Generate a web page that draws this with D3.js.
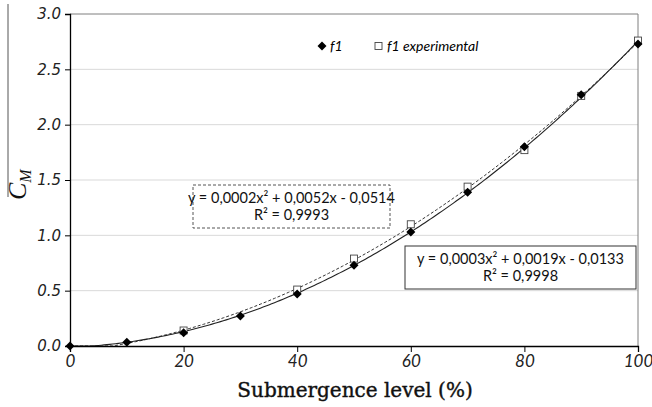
<!DOCTYPE html>
<html>
<head>
<meta charset="utf-8">
<script src="https://d3js.org/d3.v7.min.js"></script>
<style>
  body { margin: 0; background: #fff; }
  svg { display: block; }
</style>
</head>
<body>
<div id="chart"></div>
<script>
// data
const levels = [0, 10, 20, 30, 40, 50, 60, 70, 80, 90, 100];
const f1 = [0, 0.035, 0.12, 0.27, 0.47, 0.73, 1.03, 1.39, 1.80, 2.27, 2.73];
const expLevels = [20, 40, 50, 60, 70, 80, 90, 100];
const f1Exp = [0.14, 0.51, 0.79, 1.10, 1.44, 1.77, 2.26, 2.76];
const yTicks = [0, 0.5, 1.0, 1.5, 2.0, 2.5, 3.0];
const xTicks = [0, 20, 40, 60, 80, 100];
const eqSolid = ["y = 0,0003x² + 0,0019x - 0,0133", "R² = 0,9998"];
const eqDashed = ["y = 0,0002x² + 0,0052x - 0,0514", "R² = 0,9993"];

const width = 652, height = 407;
const margin = {left: 70, right: 14, top: 14, bottom: 61};

const svg = d3.select("#chart").append("svg")
    .attr("width", width)
    .attr("height", height);

const x = d3.scaleLinear().domain([0, 100]).range([margin.left, width - margin.right]);
const y = d3.scaleLinear().domain([0, 3]).range([height - margin.bottom, margin.top]);

// gridlines
svg.append("g")
    .selectAll("line")
    .data(yTicks.filter(d => d > 0 && d < 3))
    .enter().append("line")
    .attr("x1", x(0)).attr("x2", x(100))
    .attr("y1", d => y(d)).attr("y2", d => y(d))
    .attr("stroke", "#d9d9d9");

// top / right frame
svg.append("path")
    .attr("d", `M${x(0)},${y(3)}H${x(100)}V${y(0)}`)
    .attr("fill", "none")
    .attr("stroke", "#7f7f7f");

// quadratic least squares for trendlines
function fitQuad(xs, ys) {
    let s = [0, 0, 0, 0, 0], t = [0, 0, 0];
    xs.forEach((xv, i) => {
        for (let k = 0; k < 5; k++) s[k] += Math.pow(xv, k);
        for (let k = 0; k < 3; k++) t[k] += ys[i] * Math.pow(xv, k);
    });
    const A = [[s[0], s[1], s[2], t[0]], [s[1], s[2], s[3], t[1]], [s[2], s[3], s[4], t[2]]];
    for (let i = 0; i < 3; i++) {
        for (let j = i + 1; j < 3; j++) {
            const f = A[j][i] / A[i][i];
            for (let k = i; k < 4; k++) A[j][k] -= f * A[i][k];
        }
    }
    const c = [0, 0, 0];
    for (let i = 2; i >= 0; i--) {
        let v = A[i][3];
        for (let k = i + 1; k < 3; k++) v -= A[i][k] * c[k];
        c[i] = v / A[i][i];
    }
    return xv => c[0] + c[1] * xv + c[2] * xv * xv;
}

const fitSolid = fitQuad(levels, f1);
const fitDashed = fitQuad(expLevels, f1Exp);
const xs = d3.range(0, 100.5, 0.5);

const line = fn => d3.line()
    .x(d => x(d))
    .y(d => y(Math.max(0, fn(d))))(xs);

svg.append("path")
    .attr("d", line(fitDashed))
    .attr("fill", "none")
    .attr("stroke", "#333")
    .attr("stroke-width", 1)
    .attr("stroke-dasharray", "3,2");

svg.append("path")
    .attr("d", line(fitSolid))
    .attr("fill", "none")
    .attr("stroke", "#222")
    .attr("stroke-width", 1.1);

// axes
const yAxis = d3.axisLeft(y).tickValues(yTicks).tickSize(5).tickFormat(d3.format(".1f"));
const xAxis = d3.axisBottom(x).tickValues(xTicks).tickSize(6).tickFormat(d3.format("d"));

const gy = svg.append("g").attr("transform", `translate(${x(0)},0)`).call(yAxis);
gy.select(".domain").attr("stroke", "#000").attr("stroke-width", 1.3);
gy.selectAll(".tick line").attr("stroke", "#000");
gy.selectAll("text")
    .attr("font-family", "DejaVu Sans")
    .attr("font-style", "italic")
    .attr("font-size", "15px")
    .attr("fill", "#222")
    .attr("x", -9);

const gx = svg.append("g").attr("transform", `translate(0,${y(0)})`).call(xAxis);
gx.select(".domain").attr("stroke", "#000").attr("stroke-width", 1.3);
gx.selectAll(".tick line").attr("stroke", "#000");
gx.selectAll("text")
    .attr("font-family", "Lato")
    .attr("font-style", "italic")
    .attr("font-size", "17px")
    .attr("fill", "#222")
    .attr("y", 9);

// markers
const diamond = "M0,-4.5L4.5,0L0,4.5L-4.5,0Z";

svg.append("g")
    .selectAll("rect")
    .data(expLevels.map((l, i) => [l, f1Exp[i]]))
    .enter().append("rect")
    .attr("x", d => x(d[0]) - 3.5)
    .attr("y", d => y(d[1]) - 3.5)
    .attr("width", 7).attr("height", 7)
    .attr("fill", "#fff")
    .attr("stroke", "#444")
    .attr("stroke-width", 0.9);

svg.append("g")
    .selectAll("path")
    .data(levels.map((l, i) => [l, f1[i]]))
    .enter().append("path")
    .attr("d", diamond)
    .attr("transform", d => `translate(${x(d[0])},${y(d[1])})`)
    .attr("fill", "#000");

// legend
const lg = svg.append("g").attr("font-family", "Lato").attr("font-style", "italic").attr("font-size", "14px");
lg.append("path").attr("d", diamond).attr("transform", "translate(322,46)").attr("fill", "#000");
lg.append("text").attr("x", 330).attr("y", 51).text("f1");
lg.append("rect").attr("x", 375).attr("y", 42.5).attr("width", 7).attr("height", 7)
    .attr("fill", "#fff").attr("stroke", "#444").attr("stroke-width", 0.9);
lg.append("text").attr("x", 387).attr("y", 51).text("f1 experimental");

// equation boxes
function eqBox(lines, bx, by, bw, bh, dashed) {
    const g = svg.append("g");
    g.append("rect")
        .attr("x", bx).attr("y", by).attr("width", bw).attr("height", bh)
        .attr("fill", "#fff")
        .attr("stroke", dashed ? "#555" : "#333")
        .attr("stroke-width", 1)
        .attr("stroke-dasharray", dashed ? "3,2" : null);
    g.selectAll("text")
        .data(lines)
        .enter().append("text")
        .attr("x", bx + bw / 2)
        .attr("y", (d, i) => by + 18 + i * 17)
        .attr("text-anchor", "middle")
        .attr("font-family", "Lato")
        .attr("font-size", "14.5px")
        .attr("fill", "#111")
        .text(d => d);
}
eqBox(eqDashed, 193, 185, 197, 43, true);
eqBox(eqSolid, 405, 246, 231, 43, false);

// axis titles
svg.append("text")
    .attr("x", 355).attr("y", 397)
    .attr("text-anchor", "middle")
    .attr("font-family", "DejaVu Serif")
    .attr("font-size", "20px")
    .attr("stroke", "#111")
    .attr("stroke-width", 0.4)
    .attr("fill", "#111")
    .text("Submergence level (%)");

svg.append("line")
    .attr("x1", 8).attr("x2", 8)
    .attr("y1", 4).attr("y2", 197)
    .attr("stroke", "#555")
    .attr("stroke-width", 1);

const yt = svg.append("text")
    .attr("transform", "translate(26,200) rotate(-90)")
    .attr("font-family", "Liberation Serif")
    .attr("font-style", "italic")
    .attr("font-size", "26px")
    .attr("fill", "#111");
yt.append("tspan").text("C");
yt.append("tspan").attr("font-size", "16px").attr("dy", 5).text("M");
</script>
</body>
</html>
